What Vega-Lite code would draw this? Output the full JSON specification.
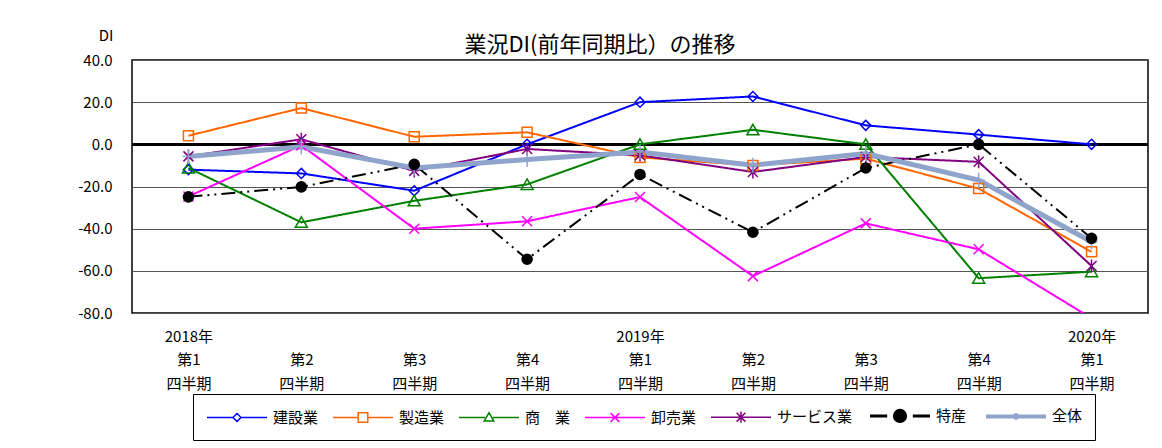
{
  "$schema": "https://vega.github.io/schema/vega-lite/v6.json",
  "autosize": "none",
  "width": 1016,
  "height": 253,
  "padding": {"left": 132, "top": 60, "right": 14, "bottom": 135},
  "background": "white",
  "title": {"text": "業況DI(前年同期比）の推移", "fontSize": 22, "fontWeight": "normal", "font": "Noto Sans CJK JP", "color": "black", "anchor": "middle", "frame": "group", "dx": -40, "dy": 33, "offset": 4},
  "config": {
    "font": "Noto Sans CJK JP",
    "view": {"stroke": "black", "strokeWidth": 1.5},
    "axis": {"labelColor": "black", "titleColor": "black", "labelFont": "Noto Sans CJK JP", "titleFont": "Noto Sans CJK JP"}
  },
  "data": {"values": [
    {"q": "2018-1", "s": "建設業", "v": -12}, {"q": "2018-2", "s": "建設業", "v": -13.8}, {"q": "2018-3", "s": "建設業", "v": -22}, {"q": "2018-4", "s": "建設業", "v": 0}, {"q": "2019-1", "s": "建設業", "v": 20}, {"q": "2019-2", "s": "建設業", "v": 22.7}, {"q": "2019-3", "s": "建設業", "v": 9}, {"q": "2019-4", "s": "建設業", "v": 4.6}, {"q": "2020-1", "s": "建設業", "v": 0},
    {"q": "2018-1", "s": "製造業", "v": 4.1}, {"q": "2018-2", "s": "製造業", "v": 17.2}, {"q": "2018-3", "s": "製造業", "v": 3.6}, {"q": "2018-4", "s": "製造業", "v": 5.7}, {"q": "2019-1", "s": "製造業", "v": -6.2}, {"q": "2019-2", "s": "製造業", "v": -10}, {"q": "2019-3", "s": "製造業", "v": -6.8}, {"q": "2019-4", "s": "製造業", "v": -21}, {"q": "2020-1", "s": "製造業", "v": -51},
    {"q": "2018-1", "s": "商　業", "v": -11.2}, {"q": "2018-2", "s": "商　業", "v": -37}, {"q": "2018-3", "s": "商　業", "v": -26.8}, {"q": "2018-4", "s": "商　業", "v": -19}, {"q": "2019-1", "s": "商　業", "v": 0}, {"q": "2019-2", "s": "商　業", "v": 6.9}, {"q": "2019-3", "s": "商　業", "v": 0}, {"q": "2019-4", "s": "商　業", "v": -63.5}, {"q": "2020-1", "s": "商　業", "v": -60.4},
    {"q": "2018-1", "s": "卸売業", "v": -24.7}, {"q": "2018-2", "s": "卸売業", "v": -0.5}, {"q": "2018-3", "s": "卸売業", "v": -40}, {"q": "2018-4", "s": "卸売業", "v": -36.5}, {"q": "2019-1", "s": "卸売業", "v": -25}, {"q": "2019-2", "s": "卸売業", "v": -62.5}, {"q": "2019-3", "s": "卸売業", "v": -37.5}, {"q": "2019-4", "s": "卸売業", "v": -49.8}, {"q": "2020-1", "s": "卸売業", "v": -82.5},
    {"q": "2018-1", "s": "サービス業", "v": -5.7}, {"q": "2018-2", "s": "サービス業", "v": 2.4}, {"q": "2018-3", "s": "サービス業", "v": -12.6}, {"q": "2018-4", "s": "サービス業", "v": -2.2}, {"q": "2019-1", "s": "サービス業", "v": -5.2}, {"q": "2019-2", "s": "サービス業", "v": -13.1}, {"q": "2019-3", "s": "サービス業", "v": -6}, {"q": "2019-4", "s": "サービス業", "v": -8.3}, {"q": "2020-1", "s": "サービス業", "v": -57.7},
    {"q": "2018-1", "s": "全体", "v": -5.8}, {"q": "2018-2", "s": "全体", "v": -1.2}, {"q": "2018-3", "s": "全体", "v": -11.2}, {"q": "2018-4", "s": "全体", "v": -7.2}, {"q": "2019-1", "s": "全体", "v": -3.6}, {"q": "2019-2", "s": "全体", "v": -9.9}, {"q": "2019-3", "s": "全体", "v": -4.4}, {"q": "2019-4", "s": "全体", "v": -17}, {"q": "2020-1", "s": "全体", "v": -46.2},
    {"q": "2018-1", "s": "特産", "v": -24.9}, {"q": "2018-2", "s": "特産", "v": -20.2}, {"q": "2018-3", "s": "特産", "v": -9.5}, {"q": "2018-4", "s": "特産", "v": -54.5}, {"q": "2019-1", "s": "特産", "v": -14.3}, {"q": "2019-2", "s": "特産", "v": -41.7}, {"q": "2019-3", "s": "特産", "v": -11.2}, {"q": "2019-4", "s": "特産", "v": 0}, {"q": "2020-1", "s": "特産", "v": -44.6}
  ]},
  "encoding": {
    "x": {"field": "q", "type": "nominal", "sort": null, "scale": {"type": "point", "padding": 0.5},
      "axis": {"title": null, "labelAngle": 0, "labelFontSize": 15, "labelLineHeight": 23.5, "labelPadding": 16, "ticks": false, "domain": false, "grid": false, "labelOverlap": false, "labelBaseline": "top",
        "labelExpr": "[substring(datum.value,5)=='1' ? substring(datum.value,0,4)+'年' : '', '第'+substring(datum.value,5), '四半期']"}},
    "y": {"field": "v", "type": "quantitative", "scale": {"domain": [-80, 40], "nice": false, "zero": false},
      "axis": {"values": [-80, -60, -40, -20, 0, 20, 40], "labelExpr": "replace(format(datum.value,'.1f'),'−','-')", "title": "DI", "titleAngle": 0, "titleAlign": "right", "titleX": -19, "titleY": -25, "titleBaseline": "middle", "titleFontSize": 15, "titleFontWeight": "normal", "labelFontSize": 15, "labelPadding": 20, "ticks": false, "domain": false, "grid": true, "gridColor": "#555555", "gridWidth": 1}}
  },
  "layer": [
    {"mark": {"type": "rule", "color": "black", "strokeWidth": 2}, "encoding": {"y": {"datum": 0}, "x": null}},
    {"transform": [{"filter": "datum.s != '全体'"}],
      "mark": {"type": "line", "clip": true, "strokeWidth": 2},
      "encoding": {
        "color": {"field": "s", "type": "nominal", "scale": {"domain": ["建設業", "製造業", "商　業", "卸売業", "サービス業", "全体", "特産"], "range": ["#0000FF", "#FF6600", "#008000", "#FF00FF", "#800080", "#8EA4CB", "#000000"]}, "legend": null},
        "strokeDash": {"field": "s", "type": "nominal", "scale": {"domain": ["建設業", "製造業", "商　業", "卸売業", "サービス業", "全体", "特産"], "range": [[1, 0], [1, 0], [1, 0], [1, 0], [1, 0], [1, 0], [14, 5, 2, 5, 2, 5]]}, "legend": null}
      }},
    {"transform": [{"filter": "datum.s == '全体'"}],
      "mark": {"type": "line", "clip": true, "strokeWidth": 5, "color": "#8EA4CB"}},
    {"transform": [{"filter": "datum.s != '特産'"}],
      "mark": {"type": "point", "filled": false, "opacity": 1, "strokeWidth": 1.5, "size": 100, "clip": true},
      "encoding": {
        "color": {"field": "s", "type": "nominal", "scale": {"domain": ["建設業", "製造業", "商　業", "卸売業", "サービス業", "全体", "特産"], "range": ["#0000FF", "#FF6600", "#008000", "#FF00FF", "#800080", "#8EA4CB", "#000000"]}, "legend": null},
        "shape": {"field": "s", "type": "nominal", "scale": {"domain": ["建設業", "製造業", "商　業", "卸売業", "サービス業", "全体", "特産"], "range": ["diamond", "square", "M0,-1.1L1.2,1L-1.2,1Z", "M-1,-1L1,1M-1,1L1,-1", "M-1,-1L1,1M-1,1L1,-1M0,-1.3V1.3", "M-1.2,0H1.2M0,-1.5V1.5", "circle"]}, "legend": null}
      }},
    {"transform": [{"filter": "datum.s == '特産'"}],
      "mark": {"type": "point", "shape": "circle", "filled": true, "opacity": 1, "color": "black", "size": 135, "clip": true}},
    {"transform": [{"filter": "false"}],
      "mark": {"type": "point", "opacity": 1, "filled": false},
      "encoding": {
        "x": null, "y": null,
        "shape": {"field": "s", "type": "nominal", "scale": {"domain": ["建設業", "製造業", "商　業", "卸売業", "サービス業", "特産", "全体"], "range": [
          "M-3.75,0H-0.5M0.5,0H3.75M-0.5,0L0,-0.5L0.5,0L0,0.5Z",
          "M-3.75,0H-0.6M0.6,0H3.75M-0.6,-0.6H0.6V0.6H-0.6Z",
          "M-3.75,0H-0.5M0.5,0H3.75M0,-0.6L0.6,0.45H-0.6Z",
          "M-3.75,0H3.75M-0.55,-0.55L0.55,0.55M-0.55,0.55L0.55,-0.55",
          "M-3.75,0H3.75M-0.55,-0.55L0.55,0.55M-0.55,0.55L0.55,-0.55M0,-0.7V0.7",
          "M-3.75,0H-1.6M1.6,0H3.75M0.7,0A0.7,0.7,0,1,1,-0.7,0A0.7,0.7,0,1,1,0.7,0Z",
          "M-3.75,0H3.75M0,-0.4V0.4"]},
          "legend": {"title": null, "orient": "none", "legendX": 61, "legendY": 334, "direction": "horizontal", "columns": 7, "symbolSize": 256, "symbolOffset": 22, "labelOffset": 26, "labelFontSize": 15, "labelFont": "Noto Sans CJK JP", "labelColor": "black", "columnPadding": 11, "padding": 12, "strokeColor": "black", "fillColor": "white", "symbolOpacity": 1}},
        "stroke": {"field": "s", "type": "nominal", "scale": {"domain": ["建設業", "製造業", "商　業", "卸売業", "サービス業", "特産", "全体"], "range": ["#0000FF", "#FF6600", "#008000", "#FF00FF", "#800080", "#000000", "#8EA4CB"]},
          "legend": {"title": null, "orient": "none", "legendX": 61, "legendY": 334, "direction": "horizontal", "columns": 7, "symbolSize": 256, "symbolOffset": 22, "labelOffset": 26, "labelFontSize": 15, "columnPadding": 11, "padding": 12, "strokeColor": "black", "fillColor": "white", "symbolOpacity": 1}},
        "fill": {"field": "s", "type": "nominal", "scale": {"domain": ["建設業", "製造業", "商　業", "卸売業", "サービス業", "特産", "全体"], "range": ["white", "white", "white", "transparent", "transparent", "black", "transparent"]},
          "legend": {"title": null, "orient": "none", "legendX": 61, "legendY": 334, "direction": "horizontal", "columns": 7, "symbolSize": 256, "symbolOffset": 22, "labelOffset": 26, "labelFontSize": 15, "columnPadding": 11, "padding": 12, "strokeColor": "black", "fillColor": "white", "symbolOpacity": 1}},
        "strokeWidth": {"field": "s", "type": "nominal", "scale": {"type": "ordinal", "domain": ["建設業", "製造業", "商　業", "卸売業", "サービス業", "特産", "全体"], "range": [1.5, 1.5, 1.5, 1.5, 1.5, 3, 4]},
          "legend": {"title": null, "orient": "none", "legendX": 61, "legendY": 334, "direction": "horizontal", "columns": 7, "symbolSize": 256, "symbolOffset": 22, "labelOffset": 26, "labelFontSize": 15, "columnPadding": 11, "padding": 12, "strokeColor": "black", "fillColor": "white", "symbolOpacity": 1}}
      }}
  ],
  "resolve": {"scale": {"shape": "independent", "strokeWidth": "independent", "stroke": "independent", "fill": "independent"}}
}
